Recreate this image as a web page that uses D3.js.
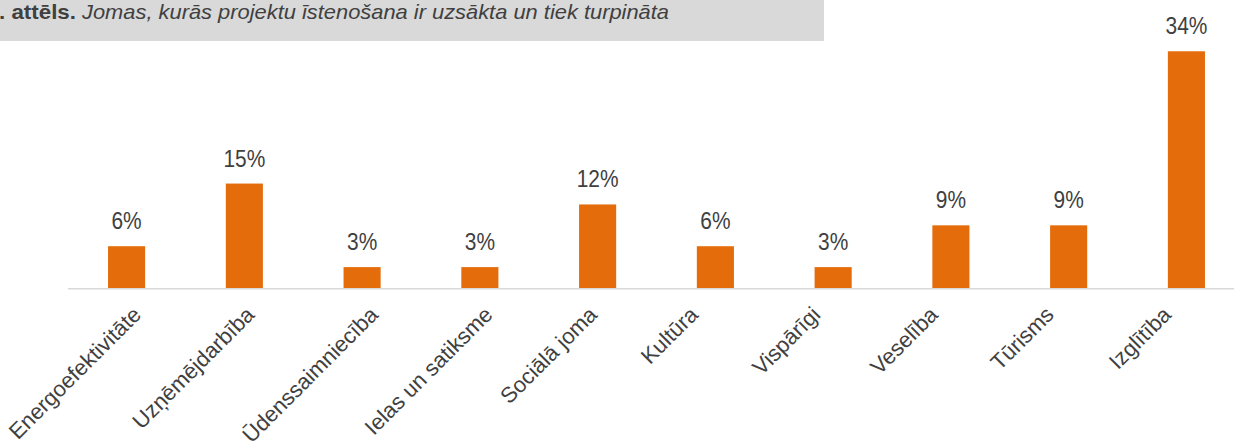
<!DOCTYPE html>
<html>
<head>
<meta charset="utf-8">
<script src="https://cdn.jsdelivr.net/npm/d3@7"></script>
<style>
  body { margin: 0; background: #fff; }
  svg { display: block; font-family: 'Liberation Sans', Arial, sans-serif; }
</style>
</head>
<body>
<svg></svg>
<script>
const w = 1234;
const h = 443;

const categories = [
  'Energoefektivitāte',
  'Uzņēmējdarbība',
  'Ūdenssaimniecība',
  'Ielas un satiksme',
  'Sociālā joma',
  'Kultūra',
  'Vispārīgi',
  'Veselība',
  'Tūrisms',
  'Izglītība'
];
const values = [6, 15, 3, 3, 12, 6, 3, 9, 9, 34];
const titleNum = '. attēls.';
const titleText = 'Jomas, kurās projektu īstenošana ir uzsākta un tiek turpināta';

const svg = d3.select('svg').attr('width', w).attr('height', h);

// title box
svg.append('rect')
  .attr('x', 0).attr('y', 0)
  .attr('width', 824).attr('height', 41)
  .attr('fill', '#d9d9d9');

svg.append('text')
  .attr('x', -1).attr('y', 19)
  .attr('fill', '#404040')
  .attr('font-weight', 'bold')
  .style('font-size', '21px')
  .attr('textLength', 77)
  .attr('lengthAdjust', 'spacingAndGlyphs')
  .text(titleNum);

svg.append('text')
  .attr('x', 82).attr('y', 19)
  .attr('fill', '#404040')
  .attr('font-style', 'italic')
  .style('font-size', '21px')
  .attr('textLength', 587)
  .attr('lengthAdjust', 'spacingAndGlyphs')
  .text(titleText);

const xScale = d3.scaleBand()
  .domain(categories)
  .range([68, 1245])
  .paddingInner(0.685)
  .paddingOuter(0.34);

const yScale = d3.scaleLinear().domain([0, 40]).range([288, 9.5]);

svg.selectAll('rect.bar')
  .data(values)
  .enter()
  .append('rect')
  .attr('class', 'bar')
  .attr('x', (d, i) => xScale(categories[i]))
  .attr('y', d => yScale(d))
  .attr('width', xScale.bandwidth())
  .attr('height', d => yScale(0) - yScale(d))
  .attr('fill', '#e46c0a');

// value labels
svg.selectAll('text.val')
  .data(values)
  .enter()
  .append('text')
  .attr('class', 'val')
  .attr('text-anchor', 'middle')
  .attr('fill', '#404040')
  .style('font-size', '24px')
  .attr('transform', (d, i) =>
    `translate(${xScale(categories[i]) + xScale.bandwidth() / 2},${yScale(d) - 17}) scale(0.87,1)`)
  .text(d => d + '%');

// axis line
svg.append('line')
  .attr('x1', 68).attr('x2', w)
  .attr('y1', yScale(0) + 0.75).attr('y2', yScale(0) + 0.75)
  .attr('stroke', '#d9d9d9')
  .attr('stroke-width', 1.5);

// category labels, rotated
const labels = svg.selectAll('text.cat')
  .data(categories)
  .enter()
  .append('text')
  .attr('class', 'cat')
  .attr('text-anchor', 'end')
  .attr('fill', '#404040')
  .style('font-size', '22px')
  .text(d => d);

labels.attr('transform', function (d) {
  const len = this.getComputedTextLength();
  const cx = xScale(d) + xScale.bandwidth() / 2;
  return `translate(${cx - 37 + len * 0.3},316) rotate(-45)`;
});
</script>
</body>
</html>
